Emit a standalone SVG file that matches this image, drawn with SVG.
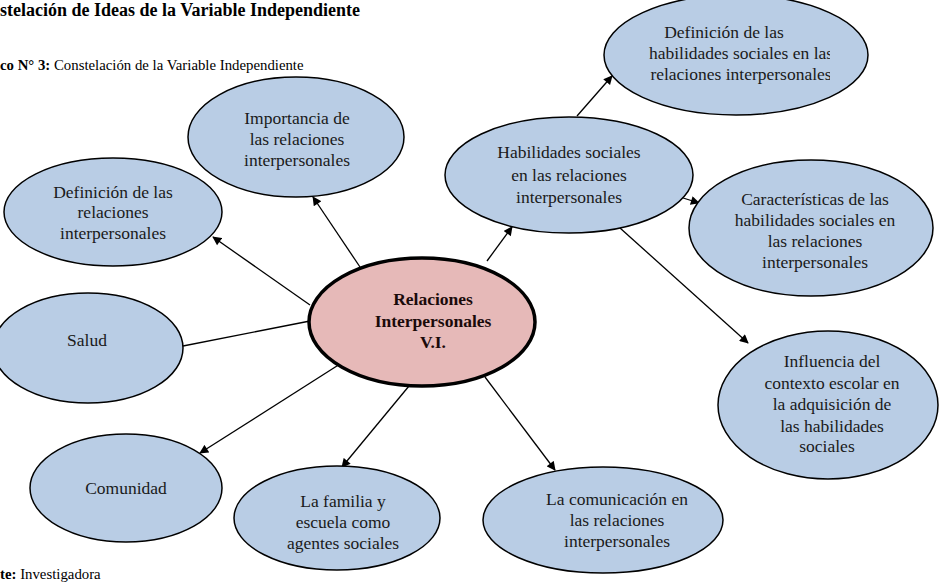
<svg xmlns="http://www.w3.org/2000/svg" width="939" height="583" viewBox="0 0 939 583">
<style>
.n{fill:#b9cde5;stroke:#000;stroke-width:1.5}
.c{fill:#e6b9b8;stroke:#000;stroke-width:3.5}
.t{font-family:"Liberation Serif","Times New Roman",serif;font-size:17.5px;fill:#1a1a1a;text-anchor:middle}
.b{font-weight:bold}
.e{stroke:#000;stroke-width:1.3;fill:none}
.h{font-family:"Liberation Serif","Times New Roman",serif;fill:#000}
</style>
<defs>
<marker id="a" viewBox="0 0 10 10" refX="9" refY="5" markerWidth="10" markerHeight="9" markerUnits="userSpaceOnUse" orient="auto">
<path d="M0,0 L10,5 L0,10 z" fill="#000"/>
</marker>
<clipPath id="clipDH"><rect x="600" y="0" width="230" height="130"/></clipPath>
</defs>
<rect width="939" height="583" fill="#fff"/>
<text class="h b" x="0" y="16" font-size="18">stelación de Ideas de la Variable Independiente</text>
<text class="h" x="0" y="70" font-size="14.8"><tspan font-weight="bold">co N° 3:</tspan> Constelación de la Variable Independiente</text>
<text class="h" x="0" y="579" font-size="14.8"><tspan font-weight="bold">te:</tspan> Investigadora</text>

<g id="connectors">
<line class="e" x1="360" y1="267" x2="313" y2="197" marker-end="url(#a)"/>
<line class="e" x1="310" y1="305" x2="213" y2="237" marker-end="url(#a)"/>
<line class="e" x1="310" y1="321" x2="183" y2="346"/>
<line class="e" x1="340" y1="364" x2="200" y2="453" marker-end="url(#a)"/>
<line class="e" x1="409" y1="386" x2="342" y2="467" marker-end="url(#a)"/>
<line class="e" x1="485" y1="377" x2="555" y2="470" marker-end="url(#a)"/>
<line class="e" x1="487" y1="261" x2="512" y2="227" marker-end="url(#a)"/>
<line class="e" x1="577" y1="116" x2="612" y2="76" marker-end="url(#a)"/>
<line class="e" x1="680" y1="197" x2="699" y2="203" marker-end="url(#a)"/>
<line class="e" x1="620" y1="228" x2="748" y2="343" marker-end="url(#a)"/>
</g>

<g id="n-dhab">
<ellipse class="n" cx="736" cy="55" rx="132" ry="60"/>
<text class="t" clip-path="url(#clipDH)"><tspan x="724" y="38">Definición de las</tspan><tspan x="741" y="59">habilidades sociales en las</tspan><tspan x="741" y="80">relaciones interpersonales</tspan></text>
</g>
<g id="n-imp">
<ellipse class="n" cx="296" cy="137" rx="108" ry="60"/>
<text class="t"><tspan x="297" y="124">Importancia de</tspan><tspan x="297" y="145">las relaciones</tspan><tspan x="297" y="166">interpersonales</tspan></text>
</g>
<g id="n-hab">
<ellipse class="n" cx="569" cy="175" rx="124" ry="58"/>
<text class="t"><tspan x="569" y="158">Habilidades sociales</tspan><tspan x="569" y="181">en las relaciones</tspan><tspan x="569" y="203">interpersonales</tspan></text>
</g>
<g id="n-def">
<ellipse class="n" cx="113" cy="212" rx="109" ry="54"/>
<text class="t"><tspan x="113" y="198">Definición de las</tspan><tspan x="113" y="218">relaciones</tspan><tspan x="113" y="239">interpersonales</tspan></text>
</g>
<g id="n-salud">
<ellipse class="n" cx="88" cy="348" rx="95" ry="55"/>
<text class="t" x="87" y="346">Salud</text>
</g>
<g id="n-com">
<ellipse class="n" cx="126" cy="488" rx="96" ry="54"/>
<text class="t" x="126" y="494">Comunidad</text>
</g>
<g id="n-fam">
<ellipse class="n" cx="337" cy="518" rx="103" ry="52"/>
<text class="t"><tspan x="343" y="507">La familia y</tspan><tspan x="343" y="528">escuela como</tspan><tspan x="343" y="549">agentes sociales</tspan></text>
</g>
<g id="n-comu">
<ellipse class="n" cx="603" cy="520" rx="120" ry="53"/>
<text class="t"><tspan x="617" y="505">La comunicación en</tspan><tspan x="617" y="526">las relaciones</tspan><tspan x="617" y="547">interpersonales</tspan></text>
</g>
<g id="n-car">
<ellipse class="n" cx="811" cy="228" rx="122" ry="68"/>
<text class="t"><tspan x="815" y="205">Características de las</tspan><tspan x="815" y="226">habilidades sociales en</tspan><tspan x="815" y="247">las relaciones</tspan><tspan x="815" y="268">interpersonales</tspan></text>
</g>
<g id="n-inf">
<ellipse class="n" cx="828" cy="405" rx="110" ry="74"/>
<text class="t"><tspan x="832" y="367">Influencia del</tspan><tspan x="832" y="389">contexto escolar en</tspan><tspan x="832" y="410">la adquisición de</tspan><tspan x="832" y="432">las habilidades</tspan><tspan x="827" y="452">sociales</tspan></text>
</g>
<g id="n-center">
<ellipse class="c" cx="422" cy="322" rx="113" ry="64"/>
<text class="t b" style="fill:#1a0a0a"><tspan x="433" y="305">Relaciones</tspan><tspan x="433" y="327">Interpersonales</tspan><tspan x="433" y="348">V.I.</tspan></text>
</g>
</svg>
